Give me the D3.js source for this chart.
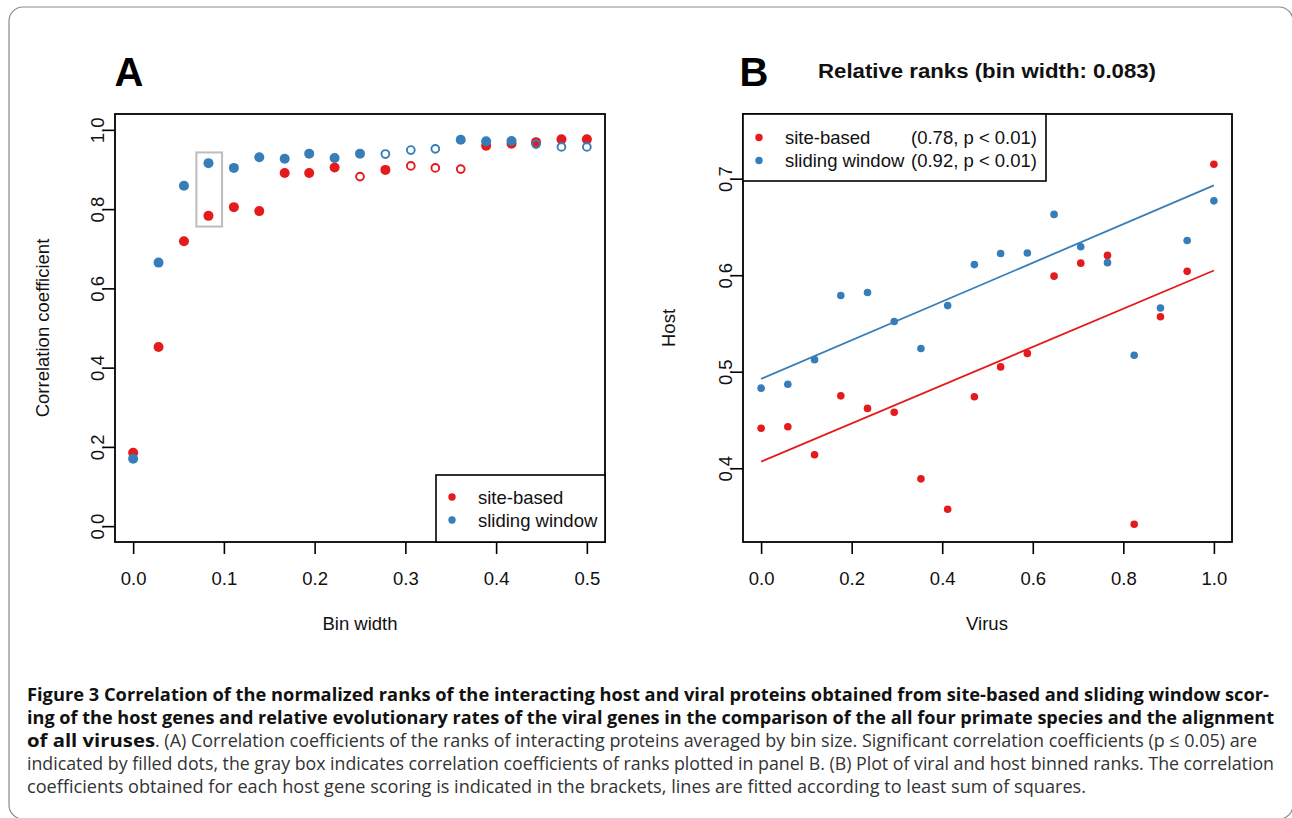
<!DOCTYPE html>
<html><head><meta charset="utf-8">
<script src="https://cdn.jsdelivr.net/npm/d3@7"></script>
<style>
html,body{margin:0;padding:0;background:#fff;}
svg{display:block;}
.chart text{font-family:"Liberation Sans", Arial, Helvetica, sans-serif;}
.cap text{font-family:"Open Sans", "Noto Sans", sans-serif;}
</style></head>
<body>
<svg id="fig" width="1292" height="818"></svg>
<script>
// ---------- Data ----------
// Panel A: correlation coefficient vs bin width
const binWidths = [0, 0.028, 0.056, 0.083, 0.111, 0.139, 0.167, 0.194, 0.222, 0.25, 0.278, 0.306, 0.333, 0.361, 0.389, 0.417, 0.444, 0.472, 0.5];
const siteCorr   = [0.185, 0.452, 0.719, 0.783, 0.805, 0.795, 0.891, 0.891, 0.905, 0.882, 0.899, 0.909, 0.904, 0.901, 0.960, 0.965, 0.969, 0.976, 0.976];
const siteSig    = [1,1,1,1,1,1,1,1,1,0,1,0,0,0,1,1,1,1,1];
const windowCorr = [0.170, 0.665, 0.859, 0.916, 0.904, 0.931, 0.927, 0.940, 0.929, 0.940, 0.939, 0.949, 0.952, 0.975, 0.971, 0.972, 0.964, 0.957, 0.957];
const windowSig  = [1,1,1,1,1,1,1,1,1,1,0,0,0,1,1,1,0,0,0];
const highlightBin = [0.0697, 0.098];   // gray box x-extent
const highlightCorr = [0.756, 0.943];   // gray box y-extent
const xTicksA = [0, 0.1, 0.2, 0.3, 0.4, 0.5];
const yTicksA = [0, 0.2, 0.4, 0.6, 0.8, 1.0];

// Panel B: relative ranks
const virusRank  = [0, 0.059, 0.118, 0.176, 0.235, 0.294, 0.353, 0.412, 0.471, 0.529, 0.588, 0.647, 0.706, 0.765, 0.824, 0.882, 0.941, 1];
const siteHost   = [0.4415, 0.443, 0.414, 0.475, 0.462, 0.458, 0.389, 0.3575, 0.474, 0.505, 0.519, 0.599, 0.6125, 0.6205, 0.342, 0.557, 0.604, 0.715];
const windowHost = [0.483, 0.487, 0.5125, 0.579, 0.582, 0.552, 0.524, 0.5685, 0.611, 0.6225, 0.623, 0.663, 0.6295, 0.613, 0.517, 0.566, 0.636, 0.677];
const siteFit    = [0.4068, 0.6049];   // fitted host value at virus 0 and 1
const windowFit  = [0.4926, 0.693];
const xTicksB = [0, 0.2, 0.4, 0.6, 0.8, 1.0];
const yTicksB = [0.4, 0.5, 0.6, 0.7];

const seriesNames = ["site-based", "sliding window"];
const seriesStats = ["(0.78, p < 0.01)", "(0.92, p < 0.01)"];

const RED = "#e41a1c", BLUE = "#377eb8";
const FS = 18.5;

const svg = d3.select("#fig");

// frame
svg.append("rect").attr("x",9).attr("y",7).attr("width",1284).attr("height",812)
  .attr("rx",14).attr("fill","none").attr("stroke","#8a8a8a").attr("stroke-width",1.2);

const chart = svg.append("g").attr("class","chart");

// ---------- Panel A ----------
const xA = d3.scaleLinear().domain([-0.02, 0.52]).range([115, 605]);
const yA = d3.scaleLinear().domain([-0.04, 1.04]).range([542, 114]);
const gA = chart.append("g");

function styleAxes(g, isY, offset){
  g.attr("font-family",null).attr("font-size",null);
  g.select(".domain").remove();
  g.selectAll(".tick line").attr("stroke","#000").attr("stroke-width",1.6);
  g.selectAll(".tick text").attr("font-size",FS).attr("fill","#111");
  if (isY){
    g.selectAll(".tick text").attr("x",null).attr("dy",null).attr("y",0)
      .attr("text-anchor","middle").attr("transform",`translate(${-offset},0) rotate(-90)`);
  } else {
    g.selectAll(".tick text").attr("dy",null).attr("y",offset);
  }
}

const axAx = gA.append("g").attr("transform","translate(0,542)")
  .call(d3.axisBottom(xA).tickValues(xTicksA).tickFormat(d3.format(".1f")).tickSize(12).tickSizeOuter(0));
styleAxes(axAx,false,42.5);
const axAy = gA.append("g").attr("transform","translate(115,0)")
  .call(d3.axisLeft(yA).tickValues(yTicksA).tickFormat(d3.format(".1f")).tickSize(12).tickSizeOuter(0));
styleAxes(axAy,true,11.5);

gA.append("rect").attr("x",115).attr("y",114).attr("width",490).attr("height",428)
  .attr("fill","none").attr("stroke","#000").attr("stroke-width",1.8);

// gray highlight box
gA.append("rect").attr("x",xA(highlightBin[0])).attr("y",yA(highlightCorr[1]))
  .attr("width",xA(highlightBin[1])-xA(highlightBin[0])).attr("height",yA(highlightCorr[0])-yA(highlightCorr[1]))
  .attr("fill","none").attr("stroke","#bdbdbd").attr("stroke-width",2);

function dotsA(vals, sig, color){
  gA.append("g").selectAll("circle").data(vals).join("circle")
    .attr("cx",(d,i)=>xA(binWidths[i])).attr("cy",d=>yA(d))
    .attr("r",(d,i)=>sig[i]?5:3.9)
    .attr("fill",(d,i)=>sig[i]?color:"none")
    .attr("stroke",(d,i)=>sig[i]?"none":color)
    .attr("stroke-width",1.9);
}
dotsA(siteCorr, siteSig, RED);
dotsA(windowCorr, windowSig, BLUE);

gA.append("text").attr("x",129).attr("y",86).attr("text-anchor","middle")
  .attr("font-weight","bold").attr("font-size",40).text("A");
gA.append("text").attr("x",360).attr("y",629.5).attr("text-anchor","middle")
  .attr("font-size",FS).attr("fill","#111").text("Bin width");
gA.append("text").attr("transform","translate(48.5,328) rotate(-90)").attr("text-anchor","middle")
  .attr("font-size",FS).attr("fill","#111").text("Correlation coefficient");

// legend A
const legA = gA.append("g");
legA.append("rect").attr("x",436).attr("y",475).attr("width",169).attr("height",67)
  .attr("fill","#fff").attr("stroke","#000").attr("stroke-width",1.6);
[RED,BLUE].forEach((c,i)=>{
  legA.append("circle").attr("cx",452).attr("cy",497+i*23).attr("r",3.7).attr("fill",c);
  legA.append("text").attr("x",478).attr("y",503.5+i*23)
    .attr("font-size",FS).attr("fill","#111").text(seriesNames[i]);
});

// ---------- Panel B ----------
const xB = d3.scaleLinear().domain([-0.04, 1.04]).range([743, 1232]);
const yB = d3.scaleLinear().domain([0.3236, 0.767]).range([542, 114]);
const gB = chart.append("g");

const axBx = gB.append("g").attr("transform","translate(0,542)")
  .call(d3.axisBottom(xB).tickValues(xTicksB).tickFormat(d3.format(".1f")).tickSize(12).tickSizeOuter(0));
styleAxes(axBx,false,42.5);
const axBy = gB.append("g").attr("transform","translate(743,0)")
  .call(d3.axisLeft(yB).tickValues(yTicksB).tickFormat(d3.format(".1f")).tickSize(12).tickSizeOuter(0));
styleAxes(axBy,true,11.5);

gB.append("rect").attr("x",743).attr("y",114).attr("width",489).attr("height",428)
  .attr("fill","none").attr("stroke","#000").attr("stroke-width",1.8);

const line = d3.line().x(d=>xB(d[0])).y(d=>yB(d[1]));
gB.append("path").attr("d",line([[0,siteFit[0]],[1,siteFit[1]]])).attr("stroke",RED).attr("stroke-width",1.8).attr("fill","none");
gB.append("path").attr("d",line([[0,windowFit[0]],[1,windowFit[1]]])).attr("stroke",BLUE).attr("stroke-width",1.8).attr("fill","none");

function dotsB(vals, color){
  gB.append("g").selectAll("circle").data(vals).join("circle")
    .attr("cx",(d,i)=>xB(virusRank[i])).attr("cy",d=>yB(d)).attr("r",3.8).attr("fill",color);
}
dotsB(siteHost, RED);
dotsB(windowHost, BLUE);

gB.append("text").attr("x",754).attr("y",86).attr("text-anchor","middle")
  .attr("font-weight","bold").attr("font-size",40).text("B");
gB.append("text").attr("x",818).attr("y",78)
  .attr("font-weight","bold").attr("font-size",20).attr("fill","#111")
  .attr("textLength",338).attr("lengthAdjust","spacingAndGlyphs")
  .text("Relative ranks (bin width: 0.083)");
gB.append("text").attr("x",987).attr("y",629.5).attr("text-anchor","middle")
  .attr("font-size",FS).attr("fill","#111").text("Virus");
gB.append("text").attr("transform","translate(674.5,328) rotate(-90)").attr("text-anchor","middle")
  .attr("font-size",FS).attr("fill","#111").text("Host");

const legB = gB.append("g");
legB.append("rect").attr("x",743).attr("y",114).attr("width",303).attr("height",67)
  .attr("fill","#fff").attr("stroke","#000").attr("stroke-width",1.6);
[RED,BLUE].forEach((c,i)=>{
  legB.append("circle").attr("cx",759).attr("cy",137.5+i*23).attr("r",3.7).attr("fill",c);
  legB.append("text").attr("x",785).attr("y",144+i*23)
    .attr("font-size",FS).attr("fill","#111").text(seriesNames[i]);
  legB.append("text").attr("x",911).attr("y",144+i*23)
    .attr("font-size",FS).attr("fill","#111").text(seriesStats[i]);
});

// ---------- Caption ----------
const cap = svg.append("g").attr("class","cap").attr("font-size",18);
function capLine(x, y, txt, x2, bold){
  cap.append("text").attr("x",x).attr("y",y).attr("font-weight",bold?"bold":"normal")
    .attr("fill", bold ? "#111" : "#333")
    .attr("textLength",x2-x).attr("lengthAdjust","spacingAndGlyphs").text(txt);
}
capLine(27,701,"Figure 3 Correlation of the normalized ranks of the interacting host and viral proteins obtained from site-based and sliding window scor-",1269,true);
capLine(27,724,"ing of the host genes and relative evolutionary rates of the viral genes in the comparison of the all four primate species and the alignment",1274,true);
capLine(27,747,"of all viruses",155,true);
capLine(155,747,". (A) Correlation coefficients of the ranks of interacting proteins averaged by bin size. Significant correlation coefficients (p ≤ 0.05) are",1257,false);
capLine(27,770,"indicated by filled dots, the gray box indicates correlation coefficients of ranks plotted in panel B. (B) Plot of viral and host binned ranks. The correlation",1274,false);
capLine(27,793,"coefficients obtained for each host gene scoring is indicated in the brackets, lines are fitted according to least sum of squares.",1086,false);
</script>
</body></html>
